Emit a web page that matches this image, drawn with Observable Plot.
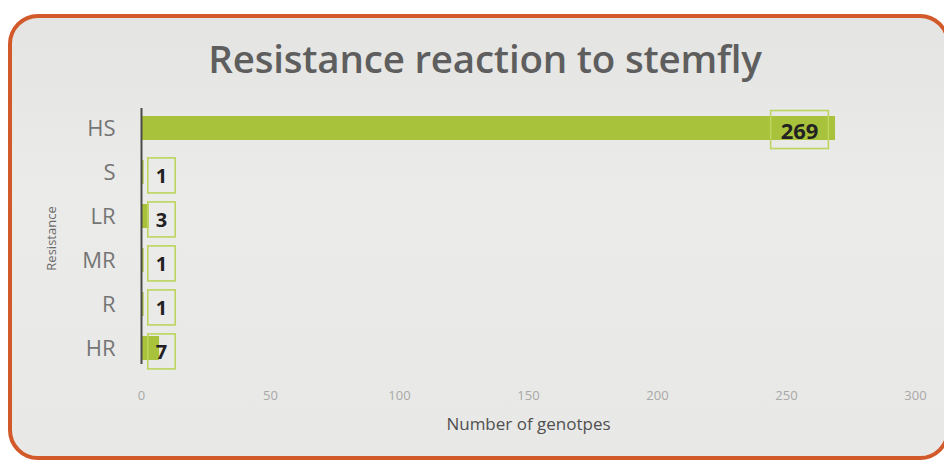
<!DOCTYPE html>
<html>
<head>
<meta charset="utf-8">
<script src="https://cdn.jsdelivr.net/npm/d3@7"></script>
<script src="https://cdn.jsdelivr.net/npm/@observablehq/plot@0.6"></script>
<style>
  html, body { margin: 0; padding: 0; background: #ffffff; width: 944px; height: 461px; overflow: hidden; }
  #frame {
    position: absolute; left: 8px; top: 14px; width: 934px; height: 438px;
    border: 4px solid #d2592a; border-radius: 30px;
    background: linear-gradient(180deg, #e4e4e2 0%, #ebebe9 40%, #e8e8e6 100%);
  }
  #title {
    position: absolute; left: 0; top: 32px; width: 970px; text-align: center;
    font-family: "Open Sans", sans-serif; font-size: 38.5px; font-weight: 600; color: #5e5e5e;
    letter-spacing: -0.2px; line-height: 52px;
  }
  #chart { position: absolute; left: 0; top: 0; }
</style>
</head>
<body>
<div id="frame"></div>
<div id="title">Resistance reaction to stemfly</div>
<div id="chart"></div>
<script>
const categories = ["HS", "S", "LR", "MR", "R", "HR"];
const values = [269, 1, 3, 1, 1, 7];
const xTicks = [0, 50, 100, 150, 200, 250, 300];
const xTickLabels = ["0", "50", "100", "150", "200", "250", "300"];

const data = categories.map((c, i) => ({category: c, value: values[i]}));
const big = data.filter(d => d.value >= 20);
const small = data.filter(d => d.value < 20);

const plot = Plot.plot({
  width: 944,
  height: 461,
  marginLeft: 141,
  marginRight: 29,
  marginTop: 106,
  marginBottom: 91,
  style: {background: "transparent", fontFamily: "Open Sans, sans-serif"},
  x: {domain: [0, 300]},
  y: {domain: categories, padding: 0},
  marks: [
    Plot.barX(data, {x: "value", y: "category", fill: "#a9c23b", insetTop: 10, insetBottom: 10}),
    Plot.axisX({ticks: xTicks, tickFormat: (d, i) => xTickLabels[i], tickSize: 0, tickPadding: 20,
      fontSize: 13, fill: "#a8a8a8", label: null}),
    Plot.axisX({ticks: [], tickSize: 0, label: "Number of genotpes", labelAnchor: "center",
      labelArrow: "none", labelOffset: 59, fontSize: 17, fill: "#505050"}),
    Plot.axisY({tickSize: 0, tickPadding: 26, fontSize: 22, fill: "#757575", label: null}),
    Plot.axisY({ticks: [], tickSize: 0, label: "Resistance", labelAnchor: "center",
      labelArrow: "none", labelOffset: 95, fontSize: 13, fill: "#6a6a6a"}),
    Plot.ruleX([0], {stroke: "#4a4a4a", strokeWidth: 2, insetTop: 2, insetBottom: 6}),
    Plot.text(big, {x: "value", y: "category", text: d => String(d.value), dx: -36, dy: 3,
      fontSize: 22, fontWeight: "bold", fill: "#222"}),
    Plot.text(small, {x: 0, y: "category", text: d => String(d.value), dx: 20, dy: 4,
      fontSize: 20, fontWeight: "bold", fill: "#222"})
  ]
});
document.getElementById("chart").appendChild(plot);

// frame each value label with a thin green box
plot.querySelectorAll('g[aria-label="text"] text').forEach(t => {
  const b = t.getBBox();
  const padX = t.textContent.length > 1 ? 10 : 8;
  const padY = 4;
  const r = document.createElementNS("http://www.w3.org/2000/svg", "rect");
  r.setAttribute("x", b.x - padX);
  r.setAttribute("y", b.y - padY);
  r.setAttribute("width", b.width + 2 * padX);
  r.setAttribute("height", b.height + 2 * padY);
  r.setAttribute("fill", "none");
  r.setAttribute("stroke", "#bcd55e");
  r.setAttribute("stroke-width", "1.6");
  const tr = t.getAttribute("transform");
  if (tr) r.setAttribute("transform", tr);
  t.parentNode.insertBefore(r, t);
});
</script>
</body>
</html>
